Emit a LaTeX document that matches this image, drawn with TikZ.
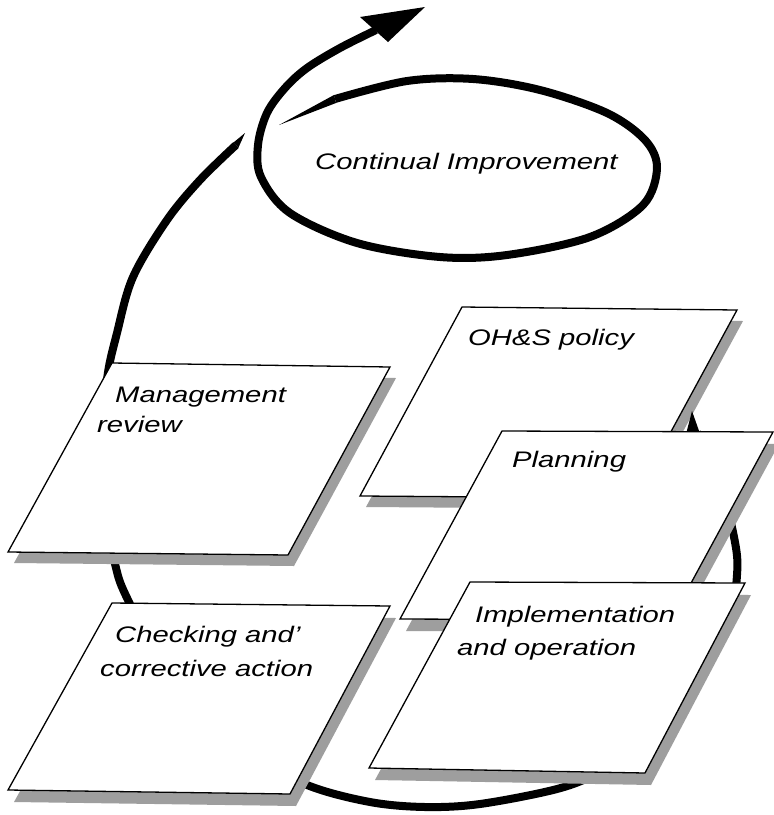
\documentclass[tikz,border=0pt]{standalone}
\usepackage{fontspec}
\setmainfont{Liberation Sans}[FakeStretch=1.3]
\begin{document}
\begin{tikzpicture}[x=1pt,y=-1pt,
  arr/.style={line width=8pt, line cap=butt, line join=round},
  box/.style={draw=black, line width=1.3pt, fill=white, line join=miter},
  shd/.style={fill=black!38},
  lbl/.style={anchor=base west, inner sep=0pt, font=\fontsize{22.5}{30}\selectfont\itshape}]
\useasboundingbox (0,0) rectangle (774,815);
\fill[white] (0,0) rectangle (774,815);

% ---------- continual improvement spiral ----------
\fill (279,125) -- (334,95) -- (336,103) -- cycle;
\draw[arr] plot[smooth, tension=0.55] coordinates {
  (335,99) (407,81) (473,79) (540,90) (607,113) (645,140) (657,168)
  (643,205) (590,237) (507,255) (440,257) (357,243) (290,213) (261,177)
  (258,145) (267,113) (285,88) (307,68) (340,48) (376,30)};
\fill (425,7) -- (360,17) -- (388,42) -- cycle;
\node[lbl] (ci) at (315,169) {Continual Improvement};

% ---------- big cycle arrow (mostly behind the sheets) ----------
\fill (233.5,142.5) -- (245,133) -- (238.5,147.5) -- cycle;
\draw[arr] plot[smooth, tension=0.55] coordinates {
  (236,145) (200,180) (167,220) (133,277) (117,333) (107,380) (104,450)
  (108,520) (116,568) (128,600) (170,680) (240,750) (307,785) (370,802)
  (425,807) (480,804) (557,789) (600,772) (640,745) (680,700) (712,650)
  (732,605) (737,575) (736,548) (725,500) (708,460) (697,432)};

% ---------- Management review ----------
\fill[shd] (118,374) -- (396,378) -- (294,566) -- (14,563) -- cycle;
\draw[box] (112,363) -- (390,367) -- (288,555) -- (8,552) -- cycle;
\node[lbl] (mr1) at (115,402) {Management};
\node[lbl] (mr2) at (97,432) {review};

% ---------- OH&S policy ----------
\fill[shd] (468,318) -- (743,321) -- (641,509) -- (366,507) -- cycle;
\draw[box] (462,307) -- (737,310) -- (635,498) -- (360,496) -- cycle;
\node[lbl] (ohs) at (468,345) {OH\&S policy};

% arrowhead peeking out behind Planning
\fill (692,411) -- (678,465) -- (710,462) -- cycle;

% ---------- Planning ----------
\fill[shd] (508,443) -- (779,444) -- (677,632) -- (406,631) -- cycle;
\draw[box] (502,431) -- (773,432) -- (671,620) -- (400,619) -- cycle;
\node[lbl] (pl) at (512,467) {Planning};

% ---------- Checking and corrective action ----------
\fill[shd] (118,615) -- (396,618) -- (296,806) -- (14,802) -- cycle;
\draw[box] (112,603) -- (390,606) -- (290,794) -- (8,790) -- cycle;
\node[lbl] (ca1) at (115,642) {Checking and'};
\node[lbl] (ca2) at (100,676) {corrective action};

% ---------- Implementation and operation ----------
\fill[shd] (476,594) -- (751,595) -- (651,785) -- (375,780) -- cycle;
\draw[box] (470,582) -- (745,583) -- (645,773) -- (369,768) -- cycle;
\node[lbl] (im1) at (475,622) {Implementation};
\node[lbl] (im2) at (457,655) {and operation};
\end{tikzpicture}
\end{document}
